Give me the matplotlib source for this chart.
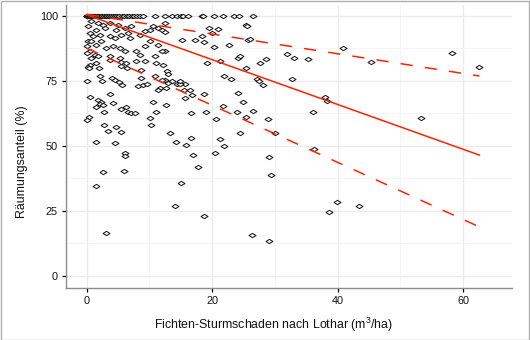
import matplotlib
matplotlib.use("Agg")
import matplotlib.pyplot as plt
from matplotlib.path import Path
from matplotlib.patches import Rectangle
import numpy as np

plt.rcParams['font.family'] = ['Liberation Sans', 'DejaVu Sans']
plt.rcParams['mathtext.default'] = 'regular'

# Plots cleared with 100 % removal
full_x = [0, 0, 0, 0.1, 0.2, 0.3, 0.4, 0.5, 0.7, 0.9, 1.0, 1.2, 1.4, 1.6, 1.8, 2.0,
          2.3, 2.5, 2.8, 3.0, 3.3, 3.6, 3.9, 4.2, 4.5, 4.8, 5.2, 5.6, 6.0, 6.4, 6.8,
          7.2, 7.6, 8.0, 8.5, 9.0, 10.9, 12.5, 13.6, 14.4, 15.1, 15.4, 16.2, 18.4,
          18.6, 20.3, 21.7, 23.5, 24.3, 26.5]

# Remaining plots: storm damage (m3/ha) and cleared share (%)
damage = [
    0.7, 0.2, 1.8, 2.6, 3.7, 1.5, 2.9, 5.0, 4.7, 6.1, 7.1, 0.5, 1.0, 2.1, 3.7, 4.5,
    5.5, 6.6, 6.9, 8.5, 9.3, 10.1, 10.6, 11.4, 0.2, 0.7, 1.5, 2.3, 0.0, 0.5, 1.3, 3.1,
    4.2, 5.3, 6.1, 7.9, 9.3, 10.1, 11.4, 0.7, 1.8, 3.7, 5.3, 7.9, 8.5, 9.3, 10.9, 0.1,
    0.5, 1.5, 12.5,
    12.5, 12.0, 12.5, 15.2, 17.3, 18.4, 19.5, 21.0, 20.0, 18.7, 20.3, 22.7, 25.4, 25.6,
    25.7, 12.0, 21.3, 19.2, 24.1, 24.5, 27.7, 28.6, 25.4, 12.2, 12.8, 13.0, 21.9, 23.0,
    27.2, 27.5, 28.1, 12.5, 13.6, 14.4, 15.7, 12.0, 13.0, 11.7, 15.5, 18.7, 24.1, 16.8,
    31.9, 33.1, 35.3, 40.9, 45.4, 58.3, 62.6, 32.8, 38.0, 38.3, 26.5, 36.1, 28.9, 53.3,
    26.1, 36.3, 39.9, 38.6, 43.4,
    0.2, 0.3, 2.0, 3.7, 5.5, 5.5, 6.4, 11.1, 8.7, 0.1, 2.1, 2.5, 4.0, 4.5, 5.2, 5.6,
    8.2, 9.0, 9.6, 8.7, 11.4, 12.7, 14.9, 14.9, 0.5, 3.7, 1.8, 2.3, 2.1, 2.6, 4.2, 1.5,
    2.8, 0.4, 0.1, 5.5, 6.3, 6.6, 7.1, 7.7, 10.6, 11.1, 10.1, 10.3, 12.7, 16.7, 19.0,
    2.8, 3.4, 4.7, 5.5, 1.5, 4.5, 13.3, 14.3, 16.7, 15.8, 6.3, 10.9, 16.5, 15.7,
    6.1, 6.1, 2.6, 6.0, 1.5, 3.1, 17.0, 17.8, 15.1, 14.1, 18.7, 20.6, 21.3, 21.9, 20.5,
    24.0, 25.4, 24.5, 30.0, 29.1, 29.4, 26.4, 29.1, 24.9, 21.7,
]
cleared = [
    97.9, 96.0, 97.2, 96.4, 97.2, 94.5, 95.3, 96.4, 94.5, 95.3, 96.0, 93.3, 92.2, 92.6,
    92.2, 91.4, 92.6, 93.3, 91.4, 92.6, 94.1, 94.5, 96.0, 95.3, 90.3, 90.3, 88.7, 90.3,
    88.3, 86.4, 84.9, 87.6, 88.3, 87.6, 86.4, 86.4, 88.3, 90.3, 88.7, 83.7, 84.5, 84.5,
    83.7, 82.6, 84.9, 82.6, 84.5, 85.7, 81.0, 81.8, 86.4,
    97.2, 94.5, 93.7, 90.7, 90.7, 92.2, 95.3, 94.9, 93.3, 89.9, 88.0, 88.7, 96.4, 96.0,
    90.7, 86.4, 82.6, 81.8, 83.7, 84.5, 81.8, 83.3, 79.9, 81.0, 78.7, 77.6, 76.8, 75.7,
    75.7, 74.9, 73.3, 75.3, 74.9, 73.7, 73.7, 75.3, 74.1, 72.2, 71.4, 69.9, 70.3, 69.5,
    85.2, 83.7, 83.3, 87.6, 82.2, 85.6, 80.3, 75.7, 68.7, 67.2, 63.3, 62.9, 60.3, 60.6,
    91.0, 48.7, 28.3, 24.5, 26.8,
    80.3, 80.0, 79.9, 82.9, 80.7, 82.2, 79.9, 81.8, 79.1, 74.9, 76.8, 74.9, 76.0, 75.3,
    74.5, 73.5, 72.9, 73.3, 73.7, 76.0, 71.4, 72.2, 73.7, 74.9, 68.7, 69.9, 67.6, 66.8,
    66.0, 65.7, 66.4, 64.9, 62.9, 61.0, 59.9, 64.1, 64.9, 63.0, 62.6, 62.6, 66.8, 63.0,
    60.7, 58.0, 65.7, 62.6, 62.9, 58.0, 55.7, 57.2, 55.3, 51.4, 51.0, 54.9, 51.4, 52.9,
    50.3, 81.8, 76.8, 71.4, 68.3,
    47.2, 46.0, 39.9, 40.3, 34.5, 16.4, 46.4, 41.8, 35.7, 26.8, 23.0, 60.3, 52.6, 49.9,
    47.2, 62.9, 61.0, 54.9, 54.9, 45.7, 38.8, 15.6, 13.3, 66.8, 65.3,
]

# Fitted quantile lines (end points over the damage range)
fit_x = [0, 62.6]
fit_median = [100.3, 46.4]
fit_upper = [100.5, 76.8]
fit_lower = [87.5, 18.8]

x_ticks = [0, 20, 40, 60]
y_ticks = [0, 25, 50, 75, 100]

fig = plt.figure(figsize=(5.30, 3.40), dpi=100)
W, H = 530, 340
ax = fig.add_axes([66 / W, 1 - 288 / H, (512 - 66) / W, (288 - 5) / H])

ax.set_xlim(-3.3, 67.8)
ax.set_ylim(-4.7, 104.1)

# grid
ax.set_xticks(x_ticks)
ax.set_yticks(y_ticks)
ax.set_xticks([10, 30, 50], minor=True)
ax.set_yticks([12.5, 37.5, 62.5, 87.5], minor=True)
ax.grid(which='major', color='#ebebeb', lw=1.0)
ax.grid(which='minor', color='#f4f4f4', lw=0.6)
ax.set_axisbelow(True)
ax.tick_params(which='minor', length=0)
ax.tick_params(which='major', length=3.2, width=0.9, color='black',
               labelsize=7.8, labelcolor='#111111', pad=2.5)

for s in ['top', 'right']:
    ax.spines[s].set_visible(False)
for s in ['left', 'bottom']:
    ax.spines[s].set_color('#8c8c8c')
    ax.spines[s].set_linewidth(1.0)

diamond = Path([(-1, 0), (0, 0.62), (1, 0), (0, -0.62), (-1, 0)],
               [Path.MOVETO, Path.LINETO, Path.LINETO, Path.LINETO, Path.CLOSEPOLY])

all_x = np.array(full_x + damage)
all_y = np.array([100.0] * len(full_x) + cleared)
ax.plot(all_x, all_y, linestyle='none', marker=diamond, markersize=5.0,
        markerfacecolor='white', markeredgecolor='#1a1a1a', markeredgewidth=0.75,
        clip_on=False, zorder=3)

red = '#ff2200'
ax.plot(fit_x, fit_median, color=red, lw=1.1, zorder=4)
ax.plot(fit_x, fit_upper, color=red, lw=1.1, linestyle=(0, (8.0, 8.0)), zorder=4)
ax.plot(fit_x, fit_lower, color=red, lw=1.1, linestyle=(0, (8.0, 8.0)), zorder=4)

fig.text(274 / W, 1 - 325 / H, 'Fichten-Sturmschaden nach Lothar (m$^{3}$/ha)',
         ha='center', va='center', fontsize=8.9, color='#111111')
fig.text(22 / W, 1 - 162 / H, 'Räumungsanteil (%)', rotation=90,
         ha='center', va='center', fontsize=8.9, color='#111111')

fig.patches.append(Rectangle((0.5 / W, 0.5 / H), 1 - 1.5 / W, 1 - 1.5 / H,
                             transform=fig.transFigure, fill=False,
                             edgecolor='#b0b0b0', lw=1.0))

fig.savefig('out.png', dpi=100)
